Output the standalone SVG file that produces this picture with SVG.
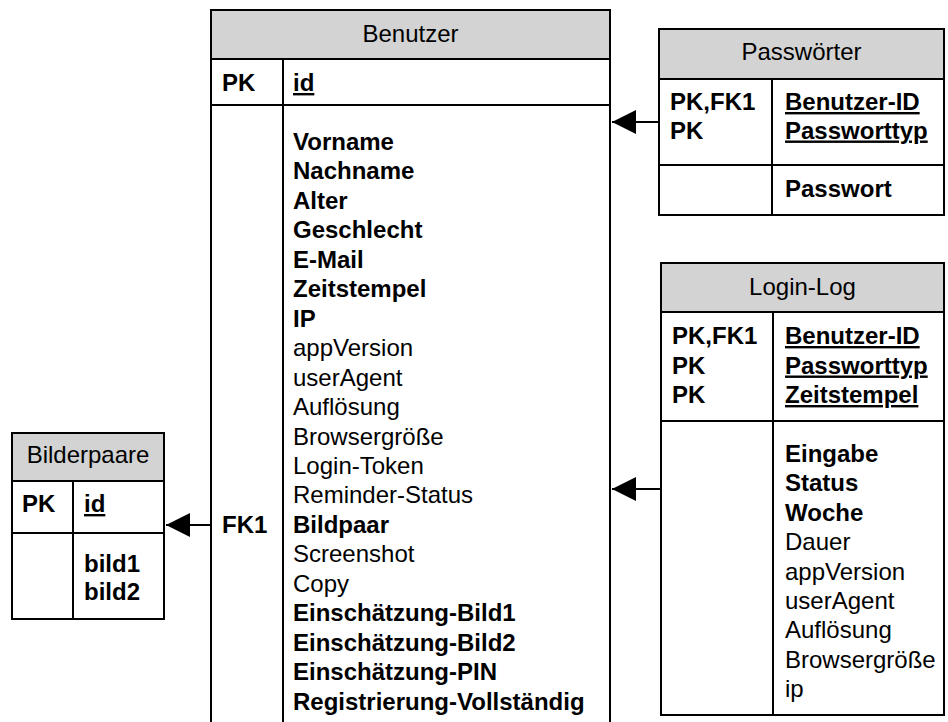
<svg xmlns="http://www.w3.org/2000/svg" width="948" height="722" viewBox="0 0 948 722">
<defs>
<style>
.box{fill:#ffffff;stroke:#000;stroke-width:2}
.hdr{fill:#d3d3d3;stroke:#000;stroke-width:2}
.ln{stroke:#000;stroke-width:2;fill:none}
text{font-family:"Liberation Sans",Arial,sans-serif;font-size:24px;fill:#000}
.t{text-anchor:middle}
.b{font-weight:bold}
.u{font-weight:bold;text-decoration:underline}
</style>
<marker id="arr" viewBox="0 0 24 24" refX="24" refY="12" markerWidth="24" markerHeight="24" markerUnits="userSpaceOnUse" orient="auto">
<path d="M0,0 L24,12 L0,24 Z" fill="#000"/>
</marker>
</defs>
<rect width="948" height="722" fill="#fff"/>

<g id="Benutzer">
<rect class="box" x="211" y="10" width="399" height="730"/>
<rect class="hdr" x="211" y="10" width="399" height="49"/>
<line class="ln" x1="211" y1="105" x2="610" y2="105"/>
<line class="ln" x1="283" y1="59" x2="283" y2="740"/>
<text class="t" x="410.5" y="42">Benutzer</text>
<text class="b" x="222" y="91">PK</text>
<text class="u" x="293" y="91">id</text>
<text class="b" x="222" y="533">FK1</text>
<text class="b" x="293" y="150">Vorname</text>
<text class="b" x="293" y="179.45">Nachname</text>
<text class="b" x="293" y="208.9">Alter</text>
<text class="b" x="293" y="238.35">Geschlecht</text>
<text class="b" x="293" y="267.8">E-Mail</text>
<text class="b" x="293" y="297.25">Zeitstempel</text>
<text class="b" x="293" y="326.7">IP</text>
<text x="293" y="356.15">appVersion</text>
<text x="293" y="385.6">userAgent</text>
<text x="293" y="415.05">Auflösung</text>
<text x="293" y="444.5">Browsergröße</text>
<text x="293" y="473.95">Login-Token</text>
<text x="293" y="503.4">Reminder-Status</text>
<text class="b" x="293" y="532.85">Bildpaar</text>
<text x="293" y="562.3">Screenshot</text>
<text x="293" y="591.75">Copy</text>
<text class="b" x="293" y="621.2">Einschätzung-Bild1</text>
<text class="b" x="293" y="650.65">Einschätzung-Bild2</text>
<text class="b" x="293" y="680.1">Einschätzung-PIN</text>
<text class="b" x="293" y="709.55">Registrierung-Vollständig</text>
</g>

<g id="Passwoerter">
<rect class="box" x="659" y="29" width="285" height="186"/>
<rect class="hdr" x="659" y="29" width="285" height="50"/>
<line class="ln" x1="659" y1="165" x2="944" y2="165"/>
<line class="ln" x1="772" y1="79" x2="772" y2="215"/>
<text class="t" x="801.5" y="60">Passwörter</text>
<text class="b" x="670" y="110">PK,FK1</text>
<text class="b" x="670" y="138.5">PK</text>
<text class="u" x="785" y="110">Benutzer-ID</text>
<text class="u" x="785" y="138.5">Passworttyp</text>
<text class="b" x="785" y="197">Passwort</text>
</g>

<g id="LoginLog">
<rect class="box" x="661" y="263" width="283" height="452"/>
<rect class="hdr" x="661" y="263" width="283" height="49"/>
<line class="ln" x1="661" y1="421" x2="944" y2="421"/>
<line class="ln" x1="773" y1="312" x2="773" y2="715"/>
<text class="t" x="802.5" y="295">Login-Log</text>
<text class="b" x="672" y="344">PK,FK1</text>
<text class="b" x="672" y="373.5">PK</text>
<text class="b" x="672" y="403">PK</text>
<text class="u" x="785" y="344">Benutzer-ID</text>
<text class="u" x="785" y="373.5">Passworttyp</text>
<text class="u" x="785" y="403">Zeitstempel</text>
<text class="b" x="785" y="462">Eingabe</text>
<text class="b" x="785" y="491.4">Status</text>
<text class="b" x="785" y="520.8">Woche</text>
<text x="785" y="550.2">Dauer</text>
<text x="785" y="579.6">appVersion</text>
<text x="785" y="609">userAgent</text>
<text x="785" y="638.4">Auflösung</text>
<text x="785" y="667.8">Browsergröße</text>
<text x="785" y="697.2">ip</text>
</g>

<g id="Bilderpaare">
<rect class="box" x="12" y="433" width="152" height="186"/>
<rect class="hdr" x="12" y="433" width="152" height="48"/>
<line class="ln" x1="12" y1="533" x2="164" y2="533"/>
<line class="ln" x1="73" y1="481" x2="73" y2="619"/>
<text class="t" x="88" y="463">Bilderpaare</text>
<text class="b" x="22" y="512">PK</text>
<text class="u" x="84" y="512">id</text>
<text class="b" x="84" y="572">bild1</text>
<text class="b" x="84" y="600">bild2</text>
</g>

<g id="connectors">
<line class="ln" x1="659" y1="122" x2="612" y2="122" marker-end="url(#arr)"/>
<line class="ln" x1="661" y1="489" x2="612" y2="489" marker-end="url(#arr)"/>
<line class="ln" x1="211" y1="525" x2="166" y2="525" marker-end="url(#arr)"/>
</g>
</svg>
